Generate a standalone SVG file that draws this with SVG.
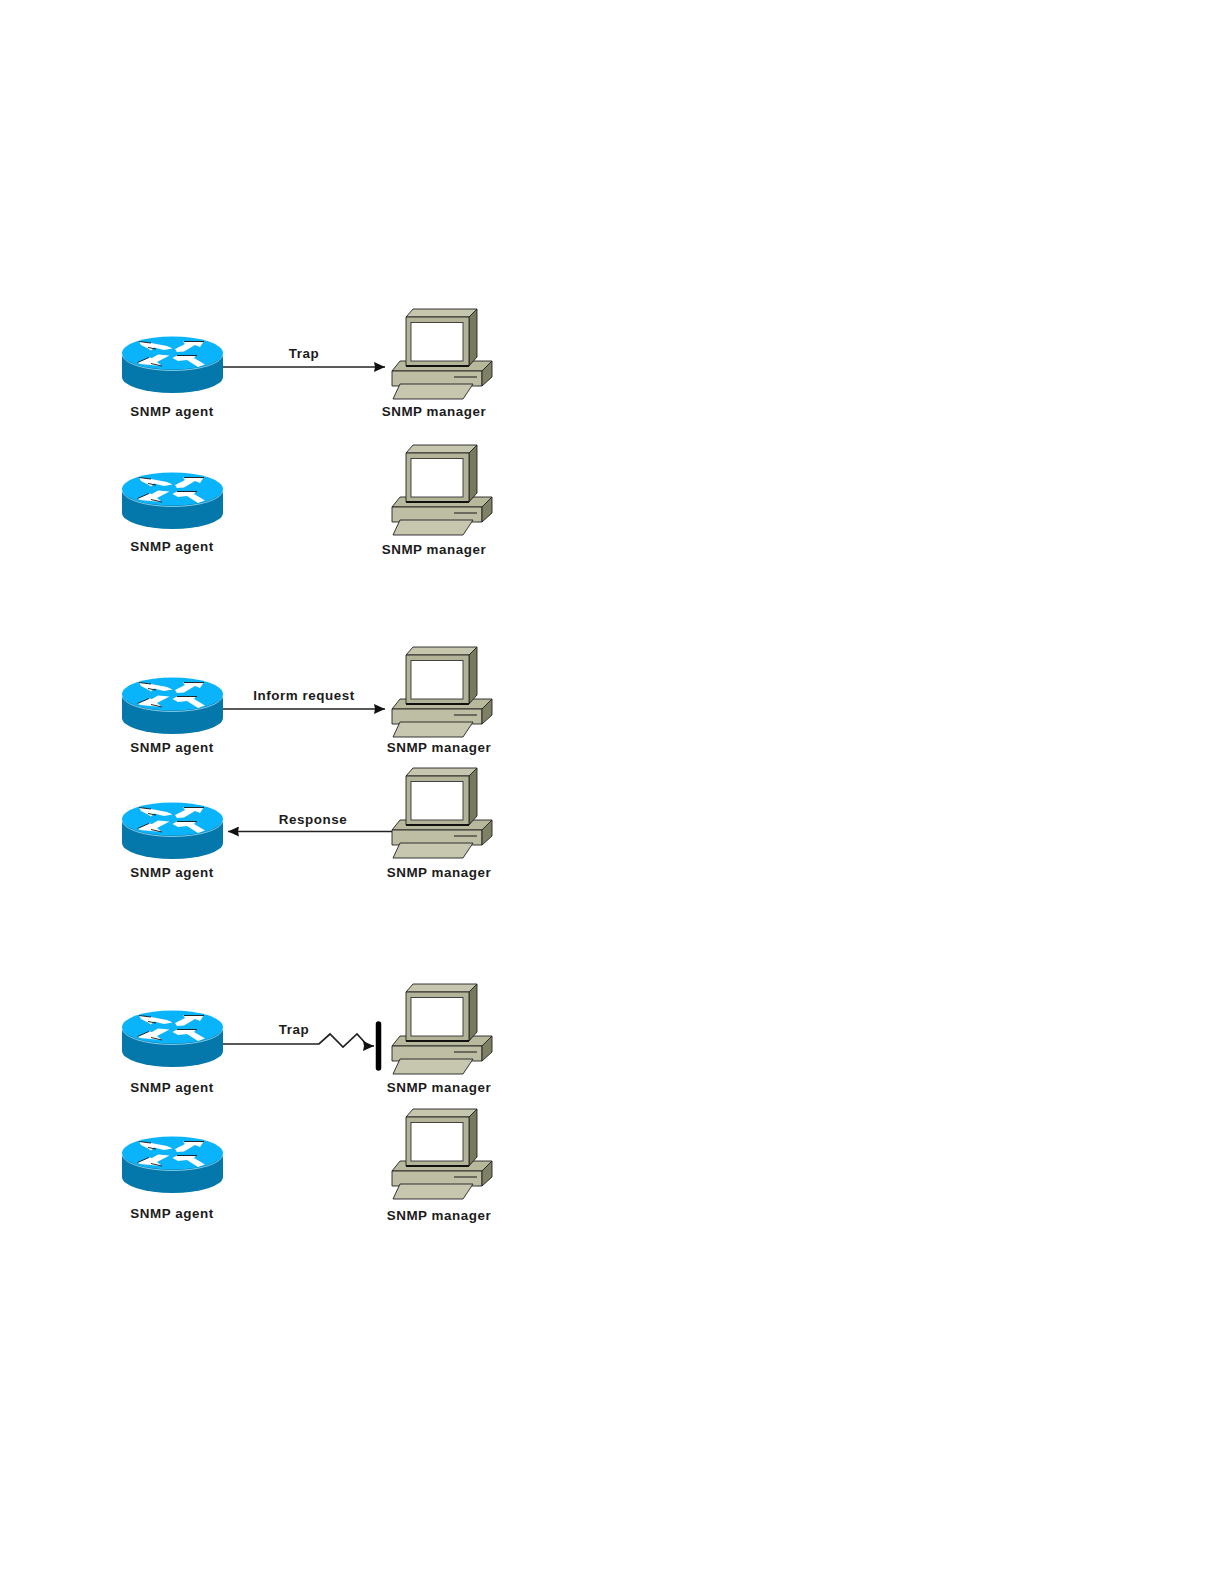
<svg xmlns="http://www.w3.org/2000/svg" width="1224" height="1584" viewBox="0 0 1224 1584">
<style>
text{font-family:"Liberation Sans",Arial,sans-serif;font-weight:bold;font-size:13.4px;letter-spacing:.55px;fill:#1c1c1c;text-anchor:middle}
.c{fill:none;stroke:#222;stroke-width:1.7}
.p{stroke:#222;stroke-width:.9;stroke-linejoin:round}
</style>
<defs>
<marker id="a" markerUnits="userSpaceOnUse" markerWidth="12" markerHeight="10" refX="11" refY="5" orient="auto"><path d="M0 0L11 5L0 10L1 5Z" fill="#111"/></marker>
<symbol id="router" overflow="visible">
<path d="M122 353V377A50.500 16 0 0 0 223 377V353Z" fill="#0477ab"/>
<ellipse cx="172.500" cy="353" rx="50.500" ry="16.500" fill="#0ab4fb"/>
<path d="M122 354A50.500 16.500 0 0 0 223 354" fill="none" stroke="#9fe0fa" stroke-width=".8"/>
<path d="M139 341.500L151 343L167 346L172.500 348.500L164 350L154 347.500L151 350.500L147 348L141 345Z" fill="#fff"/>
<path d="M175 349L185 344L183 341.500L204 341L200 347L195 345L184 351.500L177 352Z" fill="#fff"/>
<path d="M169.500 355.500L158 354.500L152 358L149 357.500L137.500 362.500L140 364L162 366L157 362Z" fill="#fff"/>
<path d="M172.500 358L177 355.500L196 355.500L194 358L205 364.500L198 367L187 360L178 361Z" fill="#fff"/>
<path d="M139 341.500L151 343M184 341.500H204M149 357.500L137.500 362.500M177 355.500H197M148 347.500L156 349M151 363.500L162 366" fill="none" stroke="#111" stroke-width=".9"/>
</symbol>
<symbol id="pc" overflow="visible">
<path class="p" d="M392 371L400 361H492L482 371Z" fill="#b8b99c"/>
<path class="p" d="M392 371H482V386H392Z" fill="#bdbea3"/>
<path class="p" d="M482 371L492 361V377L482 386Z" fill="#7f8066"/>
<path class="p" d="M400 384H473L463 399H393Z" fill="#c6c7ae"/>
<path d="M454 377H477" stroke="#333" stroke-width="1.200"/>
<path class="p" d="M406 317L413 309H477L469 317Z" fill="#c5c6ad"/>
<path class="p" d="M469 317L477 309V357L469 366Z" fill="#77785c"/>
<path class="p" d="M406 317H469V366H406Z" fill="#b3b497"/>
<rect x="411" y="322.500" width="52" height="38.500" fill="#fff" stroke="#333" stroke-width=".9"/>
<path d="M406 366H469" stroke="#111" stroke-width="2"/>
</symbol>
</defs>
<g id="connectors">
<path class="c" d="M223 367H385" marker-end="url(#a)"/>
<path class="c" d="M223 709H385" marker-end="url(#a)"/>
<path class="c" d="M392 831.500H228" marker-end="url(#a)"/>
<path class="c" d="M223 1044H319L330 1034L343 1047L357 1034L368 1046H374" marker-end="url(#a)"/>
<path d="M378.500 1024V1068" stroke="#000" stroke-width="5.500" stroke-linecap="round"/>
</g>
<g id="agent1"><use href="#router"/><text x="172" y="416">SNMP agent</text></g>
<g id="manager1"><use href="#pc"/><text x="434" y="416">SNMP manager</text></g>
<g id="agent2"><use href="#router" y="136"/><text x="172" y="551">SNMP agent</text></g>
<g id="manager2"><use href="#pc" y="136"/><text x="434" y="554">SNMP manager</text></g>
<g id="agent3"><use href="#router" y="341"/><text x="172" y="752">SNMP agent</text></g>
<g id="manager3"><use href="#pc" y="338"/><text x="439" y="752">SNMP manager</text></g>
<g id="agent4"><use href="#router" y="466"/><text x="172" y="877">SNMP agent</text></g>
<g id="manager4"><use href="#pc" y="459"/><text x="439" y="877">SNMP manager</text></g>
<g id="agent5"><use href="#router" y="674"/><text x="172" y="1092">SNMP agent</text></g>
<g id="manager5"><use href="#pc" y="675"/><text x="439" y="1092">SNMP manager</text></g>
<g id="agent6"><use href="#router" y="800"/><text x="172" y="1218">SNMP agent</text></g>
<g id="manager6"><use href="#pc" y="800"/><text x="439" y="1220">SNMP manager</text></g>
<g id="labels">
<text x="304" y="358">Trap</text>
<text x="304" y="700">Inform request</text>
<text x="313" y="824">Response</text>
<text x="294" y="1034">Trap</text>
</g>
</svg>
